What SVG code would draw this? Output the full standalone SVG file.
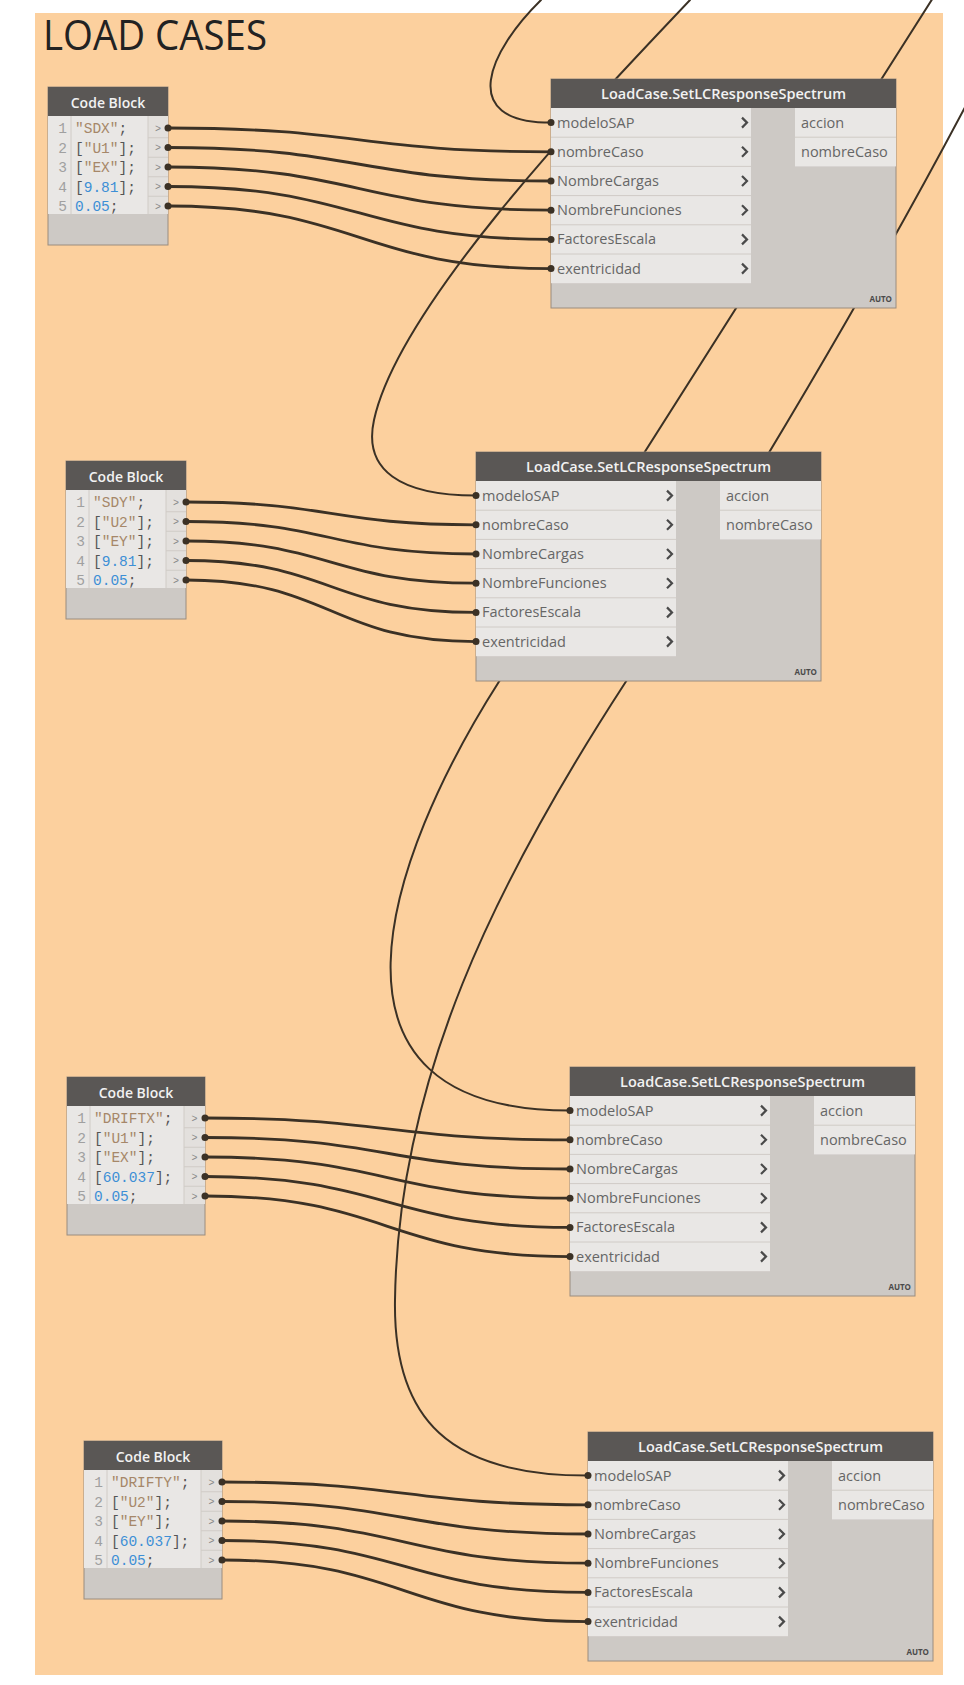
<svg xmlns="http://www.w3.org/2000/svg" width="964" height="1685" viewBox="0 0 964 1685">
<defs>
<style>
.bg{fill:#fcd09e}
.wire{fill:none;stroke:#3b3125;stroke-width:2.8;stroke-linecap:round}
.long{fill:none;stroke:#3b3125;stroke-width:2;stroke-linecap:round}
.knob{fill:#3b3125}
.body{fill:#cdc9c5;stroke:#9a8c7e;stroke-width:1}
.hdr{fill:#5a5755}
.row{fill:#e9e7e5}
.pc{fill:#e3e0dd}
.sep{fill:none;stroke:#d0cbc6;stroke-width:1}
.title{font-family:"Open Sans","Liberation Sans",sans-serif;font-size:14px;font-weight:600;fill:#f2f2f2;text-anchor:middle}
.lbl{font-family:"Open Sans","Liberation Sans",sans-serif;font-size:14.5px;fill:#666666}
.chev{fill:none;stroke:#4a4a4a;stroke-width:2.2}
.auto{font-family:"Open Sans","Liberation Sans",sans-serif;font-size:8px;font-weight:700;fill:#4a4a4a;text-anchor:end}
.code{font-family:"Liberation Mono","DejaVu Sans Mono",monospace;font-size:14.5px}
.num{fill:#a0a0a0;text-anchor:end}
.s{fill:#a68769}
.p{fill:#555555}
.n{fill:#3d8fd6}
.port{font-family:"Liberation Mono",monospace;font-size:10px;fill:#888888;text-anchor:middle}
.head{font-family:"Open Sans","Liberation Sans",sans-serif;font-size:42px;fill:#222222}
</style>
</defs>
<rect width="964" height="1685" fill="#ffffff"/>
<rect class="bg" x="35" y="13" width="908" height="1662"/>
<text class="head" x="43" y="50" textLength="224" lengthAdjust="spacingAndGlyphs">LOAD CASES</text>

<g id="connectors">
<path class="long" d="M541,0 C490,50 455,122.6 551,122.6"/>
<path class="long" d="M690,0 C610,85 400,300 374,420 C363,470 400,495.6 476,495.6"/>
<path class="long" d="M938,-10 L500,680 C385,860 300,1110.6 570,1110.6"/>
<path class="long" d="M972,94 C874,280 748.5,493 625,683 C495,883 398,1080 395,1300 C393,1420 450,1475.6 588,1475.6"/>

<path class="wire" d="M168,128 C359.5,128 359.5,151.8 551,151.8"/>
<path class="wire" d="M168,147.5 C359.5,147.5 359.5,181 551,181"/>
<path class="wire" d="M168,167 C359.5,167 359.5,210.2 551,210.2"/>
<path class="wire" d="M168,186.5 C359.5,186.5 359.5,239.4 551,239.4"/>
<path class="wire" d="M168,206 C359.5,206 359.5,268.6 551,268.6"/>

<path class="wire" d="M186,502 C331,502 331,524.8 476,524.8"/>
<path class="wire" d="M186,521.5 C331,521.5 331,554 476,554"/>
<path class="wire" d="M186,541 C331,541 331,583.2 476,583.2"/>
<path class="wire" d="M186,560.5 C331,560.5 331,612.4 476,612.4"/>
<path class="wire" d="M186,580 C331,580 331,641.6 476,641.6"/>

<path class="wire" d="M205,1118 C387.5,1118 387.5,1139.8 570,1139.8"/>
<path class="wire" d="M205,1137.5 C387.5,1137.5 387.5,1169 570,1169"/>
<path class="wire" d="M205,1157 C387.5,1157 387.5,1198.2 570,1198.2"/>
<path class="wire" d="M205,1176.5 C387.5,1176.5 387.5,1227.4 570,1227.4"/>
<path class="wire" d="M205,1196 C387.5,1196 387.5,1256.6 570,1256.6"/>

<path class="wire" d="M222,1482 C405,1482 405,1504.8 588,1504.8"/>
<path class="wire" d="M222,1501.5 C405,1501.5 405,1534 588,1534"/>
<path class="wire" d="M222,1521 C405,1521 405,1563.2 588,1563.2"/>
<path class="wire" d="M222,1540.5 C405,1540.5 405,1592.4 588,1592.4"/>
<path class="wire" d="M222,1560 C405,1560 405,1621.6 588,1621.6"/>
</g>

<g id="node1" transform="translate(551,79)">
<rect class="body" width="345" height="229"/>
<rect class="hdr" width="345" height="29"/>
<text class="title" x="172.5" y="20" textLength="245" lengthAdjust="spacingAndGlyphs">LoadCase.SetLCResponseSpectrum</text>
<rect class="row" y="29" width="200" height="175.2"/>
<path class="sep" d="M0,58.2H200M0,87.4H200M0,116.6H200M0,145.8H200M0,175H200"/>
<rect class="row" x="244" y="29" width="101" height="58.4"/>
<path class="sep" d="M244,58.2H345"/>
<text class="lbl" x="6" y="48.6">modeloSAP</text>
<text class="lbl" x="6" y="77.8">nombreCaso</text>
<text class="lbl" x="6" y="107">NombreCargas</text>
<text class="lbl" x="6" y="136.2">NombreFunciones</text>
<text class="lbl" x="6" y="165.4">FactoresEscala</text>
<text class="lbl" x="6" y="194.6">exentricidad</text>
<path class="chev" d="M191,38.6L196,43.6L191,48.6M191,67.8L196,72.8L191,77.8M191,97L196,102L191,107M191,126.2L196,131.2L191,136.2M191,155.4L196,160.4L191,165.4M191,184.6L196,189.6L191,194.6"/>
<text class="lbl" x="250" y="48.6">accion</text>
<text class="lbl" x="250" y="77.8">nombreCaso</text>
<text class="auto" x="341" y="223">AUTO</text>
<circle class="knob" cx="0" cy="43.6" r="3.5"/><circle class="knob" cx="0" cy="72.8" r="3.5"/><circle class="knob" cx="0" cy="102" r="3.5"/><circle class="knob" cx="0" cy="131.2" r="3.5"/><circle class="knob" cx="0" cy="160.4" r="3.5"/><circle class="knob" cx="0" cy="189.6" r="3.5"/>
</g>

<g id="node2" transform="translate(476,452)">
<rect class="body" width="345" height="229"/>
<rect class="hdr" width="345" height="29"/>
<text class="title" x="172.5" y="20" textLength="245" lengthAdjust="spacingAndGlyphs">LoadCase.SetLCResponseSpectrum</text>
<rect class="row" y="29" width="200" height="175.2"/>
<path class="sep" d="M0,58.2H200M0,87.4H200M0,116.6H200M0,145.8H200M0,175H200"/>
<rect class="row" x="244" y="29" width="101" height="58.4"/>
<path class="sep" d="M244,58.2H345"/>
<text class="lbl" x="6" y="48.6">modeloSAP</text>
<text class="lbl" x="6" y="77.8">nombreCaso</text>
<text class="lbl" x="6" y="107">NombreCargas</text>
<text class="lbl" x="6" y="136.2">NombreFunciones</text>
<text class="lbl" x="6" y="165.4">FactoresEscala</text>
<text class="lbl" x="6" y="194.6">exentricidad</text>
<path class="chev" d="M191,38.6L196,43.6L191,48.6M191,67.8L196,72.8L191,77.8M191,97L196,102L191,107M191,126.2L196,131.2L191,136.2M191,155.4L196,160.4L191,165.4M191,184.6L196,189.6L191,194.6"/>
<text class="lbl" x="250" y="48.6">accion</text>
<text class="lbl" x="250" y="77.8">nombreCaso</text>
<text class="auto" x="341" y="223">AUTO</text>
<circle class="knob" cx="0" cy="43.6" r="3.5"/><circle class="knob" cx="0" cy="72.8" r="3.5"/><circle class="knob" cx="0" cy="102" r="3.5"/><circle class="knob" cx="0" cy="131.2" r="3.5"/><circle class="knob" cx="0" cy="160.4" r="3.5"/><circle class="knob" cx="0" cy="189.6" r="3.5"/>
</g>

<g id="node3" transform="translate(570,1067)">
<rect class="body" width="345" height="229"/>
<rect class="hdr" width="345" height="29"/>
<text class="title" x="172.5" y="20" textLength="245" lengthAdjust="spacingAndGlyphs">LoadCase.SetLCResponseSpectrum</text>
<rect class="row" y="29" width="200" height="175.2"/>
<path class="sep" d="M0,58.2H200M0,87.4H200M0,116.6H200M0,145.8H200M0,175H200"/>
<rect class="row" x="244" y="29" width="101" height="58.4"/>
<path class="sep" d="M244,58.2H345"/>
<text class="lbl" x="6" y="48.6">modeloSAP</text>
<text class="lbl" x="6" y="77.8">nombreCaso</text>
<text class="lbl" x="6" y="107">NombreCargas</text>
<text class="lbl" x="6" y="136.2">NombreFunciones</text>
<text class="lbl" x="6" y="165.4">FactoresEscala</text>
<text class="lbl" x="6" y="194.6">exentricidad</text>
<path class="chev" d="M191,38.6L196,43.6L191,48.6M191,67.8L196,72.8L191,77.8M191,97L196,102L191,107M191,126.2L196,131.2L191,136.2M191,155.4L196,160.4L191,165.4M191,184.6L196,189.6L191,194.6"/>
<text class="lbl" x="250" y="48.6">accion</text>
<text class="lbl" x="250" y="77.8">nombreCaso</text>
<text class="auto" x="341" y="223">AUTO</text>
<circle class="knob" cx="0" cy="43.6" r="3.5"/><circle class="knob" cx="0" cy="72.8" r="3.5"/><circle class="knob" cx="0" cy="102" r="3.5"/><circle class="knob" cx="0" cy="131.2" r="3.5"/><circle class="knob" cx="0" cy="160.4" r="3.5"/><circle class="knob" cx="0" cy="189.6" r="3.5"/>
</g>

<g id="node4" transform="translate(588,1432)">
<rect class="body" width="345" height="229"/>
<rect class="hdr" width="345" height="29"/>
<text class="title" x="172.5" y="20" textLength="245" lengthAdjust="spacingAndGlyphs">LoadCase.SetLCResponseSpectrum</text>
<rect class="row" y="29" width="200" height="175.2"/>
<path class="sep" d="M0,58.2H200M0,87.4H200M0,116.6H200M0,145.8H200M0,175H200"/>
<rect class="row" x="244" y="29" width="101" height="58.4"/>
<path class="sep" d="M244,58.2H345"/>
<text class="lbl" x="6" y="48.6">modeloSAP</text>
<text class="lbl" x="6" y="77.8">nombreCaso</text>
<text class="lbl" x="6" y="107">NombreCargas</text>
<text class="lbl" x="6" y="136.2">NombreFunciones</text>
<text class="lbl" x="6" y="165.4">FactoresEscala</text>
<text class="lbl" x="6" y="194.6">exentricidad</text>
<path class="chev" d="M191,38.6L196,43.6L191,48.6M191,67.8L196,72.8L191,77.8M191,97L196,102L191,107M191,126.2L196,131.2L191,136.2M191,155.4L196,160.4L191,165.4M191,184.6L196,189.6L191,194.6"/>
<text class="lbl" x="250" y="48.6">accion</text>
<text class="lbl" x="250" y="77.8">nombreCaso</text>
<text class="auto" x="341" y="223">AUTO</text>
<circle class="knob" cx="0" cy="43.6" r="3.5"/><circle class="knob" cx="0" cy="72.8" r="3.5"/><circle class="knob" cx="0" cy="102" r="3.5"/><circle class="knob" cx="0" cy="131.2" r="3.5"/><circle class="knob" cx="0" cy="160.4" r="3.5"/><circle class="knob" cx="0" cy="189.6" r="3.5"/>
</g>

<g id="codeblock1" transform="translate(48,87)">
<rect class="body" width="120" height="158"/>
<rect class="hdr" width="120" height="29"/>
<text class="title" x="60" y="20.5">Code Block</text>
<rect class="row" y="29" width="100" height="98"/>
<rect class="pc" x="100" y="29" width="20" height="98"/>
<path class="sep" d="M100,29V127M100,50.75H120M100,70.25H120M100,89.75H120M100,109.25H120M23,29V127"/>
<text class="code" x="19" y="46"><tspan class="num">1</tspan></text>
<text class="code" x="19" y="65.5"><tspan class="num">2</tspan></text>
<text class="code" x="19" y="85"><tspan class="num">3</tspan></text>
<text class="code" x="19" y="104.5"><tspan class="num">4</tspan></text>
<text class="code" x="19" y="124"><tspan class="num">5</tspan></text>
<text class="code" x="27" y="46"><tspan class="s">"SDX"</tspan><tspan class="p">;</tspan></text>
<text class="code" x="27" y="65.5"><tspan class="p">[</tspan><tspan class="s">"U1"</tspan><tspan class="p">];</tspan></text>
<text class="code" x="27" y="85"><tspan class="p">[</tspan><tspan class="s">"EX"</tspan><tspan class="p">];</tspan></text>
<text class="code" x="27" y="104.5"><tspan class="p">[</tspan><tspan class="n">9.81</tspan><tspan class="p">];</tspan></text>
<text class="code" x="27" y="124"><tspan class="n">0.05</tspan><tspan class="p">;</tspan></text>
<text class="port" x="110" y="44.5">&gt;</text>
<text class="port" x="110" y="64">&gt;</text>
<text class="port" x="110" y="83.5">&gt;</text>
<text class="port" x="110" y="103">&gt;</text>
<text class="port" x="110" y="122.5">&gt;</text>
<circle class="knob" cx="120" cy="41" r="3.5"/><circle class="knob" cx="120" cy="60.5" r="3.5"/><circle class="knob" cx="120" cy="80" r="3.5"/><circle class="knob" cx="120" cy="99.5" r="3.5"/><circle class="knob" cx="120" cy="119" r="3.5"/>
</g>

<g id="codeblock2" transform="translate(66,461)">
<rect class="body" width="120" height="158"/>
<rect class="hdr" width="120" height="29"/>
<text class="title" x="60" y="20.5">Code Block</text>
<rect class="row" y="29" width="100" height="98"/>
<rect class="pc" x="100" y="29" width="20" height="98"/>
<path class="sep" d="M100,29V127M100,50.75H120M100,70.25H120M100,89.75H120M100,109.25H120M23,29V127"/>
<text class="code" x="19" y="46"><tspan class="num">1</tspan></text>
<text class="code" x="19" y="65.5"><tspan class="num">2</tspan></text>
<text class="code" x="19" y="85"><tspan class="num">3</tspan></text>
<text class="code" x="19" y="104.5"><tspan class="num">4</tspan></text>
<text class="code" x="19" y="124"><tspan class="num">5</tspan></text>
<text class="code" x="27" y="46"><tspan class="s">"SDY"</tspan><tspan class="p">;</tspan></text>
<text class="code" x="27" y="65.5"><tspan class="p">[</tspan><tspan class="s">"U2"</tspan><tspan class="p">];</tspan></text>
<text class="code" x="27" y="85"><tspan class="p">[</tspan><tspan class="s">"EY"</tspan><tspan class="p">];</tspan></text>
<text class="code" x="27" y="104.5"><tspan class="p">[</tspan><tspan class="n">9.81</tspan><tspan class="p">];</tspan></text>
<text class="code" x="27" y="124"><tspan class="n">0.05</tspan><tspan class="p">;</tspan></text>
<text class="port" x="110" y="44.5">&gt;</text>
<text class="port" x="110" y="64">&gt;</text>
<text class="port" x="110" y="83.5">&gt;</text>
<text class="port" x="110" y="103">&gt;</text>
<text class="port" x="110" y="122.5">&gt;</text>
<circle class="knob" cx="120" cy="41" r="3.5"/><circle class="knob" cx="120" cy="60.5" r="3.5"/><circle class="knob" cx="120" cy="80" r="3.5"/><circle class="knob" cx="120" cy="99.5" r="3.5"/><circle class="knob" cx="120" cy="119" r="3.5"/>
</g>

<g id="codeblock3" transform="translate(67,1077)">
<rect class="body" width="138" height="158"/>
<rect class="hdr" width="138" height="29"/>
<text class="title" x="69" y="20.5">Code Block</text>
<rect class="row" y="29" width="117" height="98"/>
<rect class="pc" x="117" y="29" width="21" height="98"/>
<path class="sep" d="M117,29V127M117,50.75H138M117,70.25H138M117,89.75H138M117,109.25H138M23,29V127"/>
<text class="code" x="19" y="46"><tspan class="num">1</tspan></text>
<text class="code" x="19" y="65.5"><tspan class="num">2</tspan></text>
<text class="code" x="19" y="85"><tspan class="num">3</tspan></text>
<text class="code" x="19" y="104.5"><tspan class="num">4</tspan></text>
<text class="code" x="19" y="124"><tspan class="num">5</tspan></text>
<text class="code" x="27" y="46"><tspan class="s">"DRIFTX"</tspan><tspan class="p">;</tspan></text>
<text class="code" x="27" y="65.5"><tspan class="p">[</tspan><tspan class="s">"U1"</tspan><tspan class="p">];</tspan></text>
<text class="code" x="27" y="85"><tspan class="p">[</tspan><tspan class="s">"EX"</tspan><tspan class="p">];</tspan></text>
<text class="code" x="27" y="104.5"><tspan class="p">[</tspan><tspan class="n">60.037</tspan><tspan class="p">];</tspan></text>
<text class="code" x="27" y="124"><tspan class="n">0.05</tspan><tspan class="p">;</tspan></text>
<text class="port" x="127.5" y="44.5">&gt;</text>
<text class="port" x="127.5" y="64">&gt;</text>
<text class="port" x="127.5" y="83.5">&gt;</text>
<text class="port" x="127.5" y="103">&gt;</text>
<text class="port" x="127.5" y="122.5">&gt;</text>
<circle class="knob" cx="138" cy="41" r="3.5"/><circle class="knob" cx="138" cy="60.5" r="3.5"/><circle class="knob" cx="138" cy="80" r="3.5"/><circle class="knob" cx="138" cy="99.5" r="3.5"/><circle class="knob" cx="138" cy="119" r="3.5"/>
</g>

<g id="codeblock4" transform="translate(84,1441)">
<rect class="body" width="138" height="158"/>
<rect class="hdr" width="138" height="29"/>
<text class="title" x="69" y="20.5">Code Block</text>
<rect class="row" y="29" width="117" height="98"/>
<rect class="pc" x="117" y="29" width="21" height="98"/>
<path class="sep" d="M117,29V127M117,50.75H138M117,70.25H138M117,89.75H138M117,109.25H138M23,29V127"/>
<text class="code" x="19" y="46"><tspan class="num">1</tspan></text>
<text class="code" x="19" y="65.5"><tspan class="num">2</tspan></text>
<text class="code" x="19" y="85"><tspan class="num">3</tspan></text>
<text class="code" x="19" y="104.5"><tspan class="num">4</tspan></text>
<text class="code" x="19" y="124"><tspan class="num">5</tspan></text>
<text class="code" x="27" y="46"><tspan class="s">"DRIFTY"</tspan><tspan class="p">;</tspan></text>
<text class="code" x="27" y="65.5"><tspan class="p">[</tspan><tspan class="s">"U2"</tspan><tspan class="p">];</tspan></text>
<text class="code" x="27" y="85"><tspan class="p">[</tspan><tspan class="s">"EY"</tspan><tspan class="p">];</tspan></text>
<text class="code" x="27" y="104.5"><tspan class="p">[</tspan><tspan class="n">60.037</tspan><tspan class="p">];</tspan></text>
<text class="code" x="27" y="124"><tspan class="n">0.05</tspan><tspan class="p">;</tspan></text>
<text class="port" x="127.5" y="44.5">&gt;</text>
<text class="port" x="127.5" y="64">&gt;</text>
<text class="port" x="127.5" y="83.5">&gt;</text>
<text class="port" x="127.5" y="103">&gt;</text>
<text class="port" x="127.5" y="122.5">&gt;</text>
<circle class="knob" cx="138" cy="41" r="3.5"/><circle class="knob" cx="138" cy="60.5" r="3.5"/><circle class="knob" cx="138" cy="80" r="3.5"/><circle class="knob" cx="138" cy="99.5" r="3.5"/><circle class="knob" cx="138" cy="119" r="3.5"/>
</g>
</svg>
